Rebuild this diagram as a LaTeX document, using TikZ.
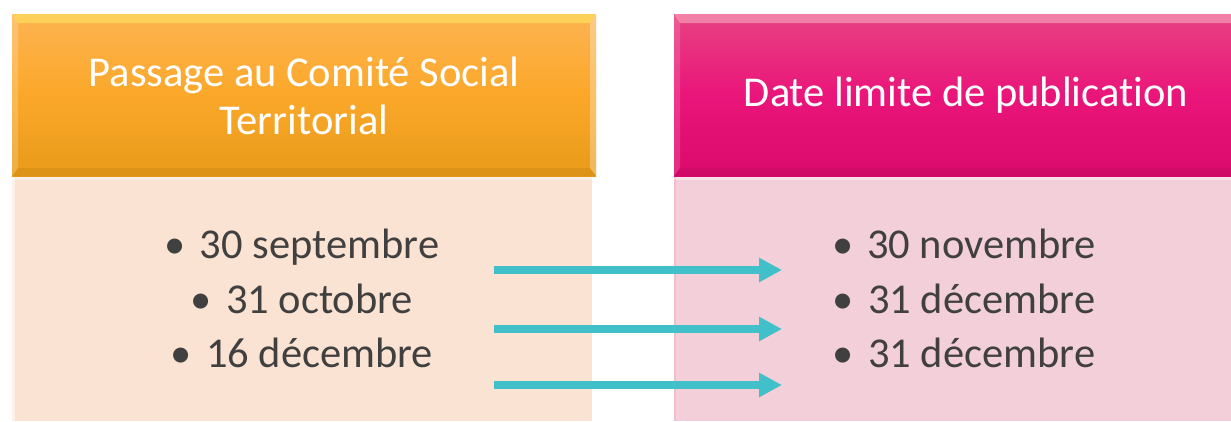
\documentclass[tikz,border=0pt]{standalone}
\usepackage{fontspec}
\setmainfont{Carlito}[Ligatures={NoCommon}]
\usetikzlibrary{arrows.meta}
\definecolor{orTop}{HTML}{FDB350}
\definecolor{orMid}{HTML}{FBA82A}
\definecolor{orBot}{HTML}{E89A18}
\definecolor{pkTop}{HTML}{E74283}
\definecolor{pkMid}{HTML}{EA157A}
\definecolor{pkBot}{HTML}{DA0A6C}
\definecolor{orBody}{HTML}{FAE3D2}
\definecolor{pkBody}{HTML}{F2CFD9}
\definecolor{txt}{HTML}{404040}
\definecolor{teal}{HTML}{42C0C9}
\newcommand{\bul}{•\hspace{14pt}}
\begin{document}
\begin{tikzpicture}[x=1pt,y=-1pt,
  headtxt/.style={text=white,font=\fontsize{42.5}{48}\selectfont,align=center},
  itemtxt/.style={text=txt,font=\fontsize{42.5}{48}\selectfont,anchor=base},
  conn/.style={draw=teal,line width=7.5pt,-{Triangle[length=23pt,width=23pt]},shorten >=0pt}]
\useasboundingbox (0,0) rectangle (1231,421);
\fill[white] (0,0) rectangle (1231,421);
% bodies
\fill[orBody] (12,176) rectangle (592,421);
\fill[pkBody] (674,176) rectangle (1240,421);
\fill[white,opacity=0.5] (12,176) rectangle (15,421);
\fill[white,opacity=0.4] (12,176) rectangle (592,180);
\fill[white,opacity=0.4] (674,176) rectangle (1240,180);
\fill[pkTop,opacity=0.12] (674,176) rectangle (676,421);
% headers
\shade[top color=orTop,bottom color=orBot,middle color=orMid] (12,14) rectangle (596,176);
\shade[top color=pkTop,bottom color=pkBot,middle color=pkMid] (674,14) rectangle (1240,176);
\fill[yellow!60!white,opacity=0.45] (12,14) -- (596,14) -- (590,23) -- (18,23) -- cycle;
\fill[white,opacity=0.2] (12,14) -- (18,23) -- (18,168) -- (12,176) -- cycle;
\fill[white,opacity=0.3] (596,14) -- (590,23) -- (590,168) -- (596,176) -- cycle;
\fill[black,opacity=0.05] (12,176) -- (18,168) -- (590,168) -- (596,176) -- cycle;
\fill[pink!70!white,opacity=0.45] (674,14) -- (1240,14) -- (1234,23) -- (680,23) -- cycle;
\fill[white,opacity=0.15] (674,14) -- (680,23) -- (680,168) -- (674,176) -- cycle;
\fill[black,opacity=0.05] (674,176) -- (680,168) -- (1234,168) -- (1240,176) -- cycle;
% header texts
\node[headtxt] (hl) at (304,96) {Passage au Comité Social\\Territorial};
\node[headtxt] (hr) at (966,95) {Date limite de publication};
% items
\node[itemtxt] (l1) at (302,258) {\bul 30 septembre};
\node[itemtxt] (l2) at (302,313) {\bul 31 octobre};
\node[itemtxt] (l3) at (302,367) {\bul 16 décembre};
\node[itemtxt] (r1) at (964,258) {\bul 30 novembre};
\node[itemtxt] (r2) at (964,313) {\bul 31 décembre};
\node[itemtxt] (r3) at (964,367) {\bul 31 décembre};
% arrows
\coordinate (s1) at (494,270); \coordinate (e1) at (782,270);
\coordinate (s2) at (494,329); \coordinate (e2) at (782,329);
\coordinate (s3) at (494,385); \coordinate (e3) at (782,385);
\draw[conn] (s1) -- (e1);
\draw[conn] (s2) -- (e2);
\draw[conn] (s3) -- (e3);
\end{tikzpicture}
\end{document}
